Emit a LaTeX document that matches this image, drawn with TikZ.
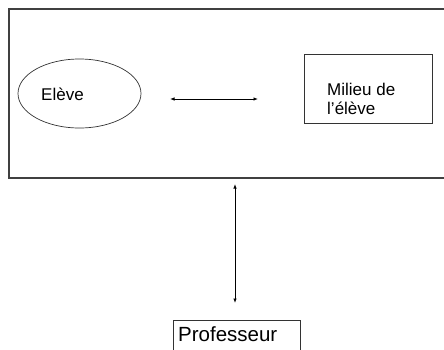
\documentclass[tikz,border=0pt]{standalone}
\usepackage{fontspec}
\setmainfont{Liberation Sans}
\usetikzlibrary{shapes.geometric,arrows.meta}
\begin{document}
\begin{tikzpicture}[x=1pt,y=-1pt,
  frame/.style={draw=black!75,line width=1.1pt,inner sep=0pt},
  boxed/.style={draw=black!80,line width=0.8pt,inner sep=0pt},
  oval/.style={ellipse,draw=black!80,line width=0.7pt,inner sep=0pt},
  lbl/.style={inner sep=0pt,font=\fontsize{17}{19}\selectfont},
  link/.style={{Latex[length=4.5pt,width=3.5pt]}-{Latex[length=4.5pt,width=3.5pt]},line width=0.8pt}]
\useasboundingbox (0,0) rectangle (444,349);
\clip (0,0) rectangle (444,349);
% outer frame (runs past the right edge)
\node[frame,minimum width=451pt,minimum height=169pt] (cadre) at (234.5,93.5) {};
% pupil
\node[oval,minimum width=123pt,minimum height=69pt] (eleve) at (79.5,93.5) {};
\node[lbl,anchor=base west] (eleveT) at (41,100) {Elève};
% pupil's environment
\node[boxed,minimum width=128pt,minimum height=69pt] (milieu) at (368,88.5) {};
\node[lbl,anchor=base west] (milieuA) at (327,95) {Milieu de};
\node[lbl,anchor=base west] (milieuB) at (327,114) {l’élève};
% teacher (box runs past the bottom edge)
\node[boxed,minimum width=127pt,minimum height=60pt] (prof) at (236.5,350) {};
\node[inner sep=0pt,anchor=base west,font=\fontsize{20.5}{23}\selectfont] (profT) at (178,341) {Professeur};
% connectors
\coordinate (h1) at (170,99);
\coordinate (h2) at (258,99);
\draw[link] (h1) -- (h2);
\coordinate (v1) at (235,184);
\coordinate (v2) at (235,303);
\draw[link] (v1) -- (v2);
\end{tikzpicture}
\end{document}
